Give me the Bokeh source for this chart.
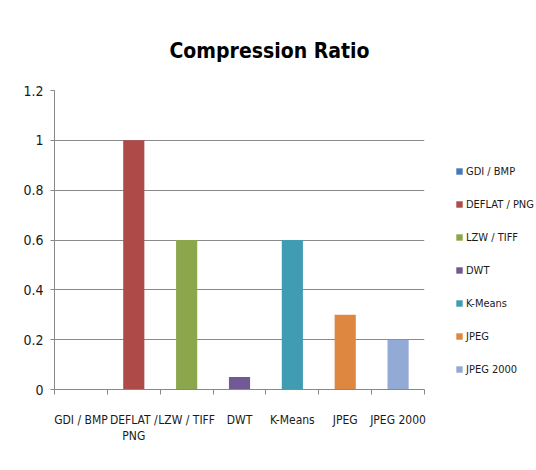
from bokeh.plotting import figure
from bokeh.models import ColumnDataSource, FixedTicker, Legend, LegendItem, Range1d
from bokeh.embed import file_html
from bokeh.resources import INLINE

categories = ["GDI / BMP", "DEFLAT / PNG", "LZW / TIFF", "DWT", "K-Means", "JPEG", "JPEG 2000"]
axis_labels = ["GDI / BMP", "DEFLAT /\nPNG", "LZW / TIFF", "DWT", "K-Means", "JPEG", "JPEG 2000"]
values = [0.0, 1.0, 0.6, 0.05, 0.6, 0.3, 0.2]
colors = ["#4677B8", "#AE4A48", "#8BA64B", "#735893", "#3F9CB2", "#DE8740", "#94AAD6"]
y_ticks = [0, 0.2, 0.4, 0.6, 0.8, 1.0, 1.2]
y_tick_labels = ["0", "0.2", "0.4", "0.6", "0.8", "1", "1.2"]

FONT = "'DejaVu Sans Condensed', Roboto"
TXT = "#1a1a1a"

xpos = [i + 0.5 for i in range(len(categories))]

p = figure(frame_width=370, frame_height=299, output_backend="svg", toolbar_location=None,
           x_range=Range1d(0, len(categories)), y_range=Range1d(0, 1.2),
           min_border_left=54, min_border_right=0, min_border_top=90, min_border_bottom=70)

p.title.text = "Compression Ratio"
p.title.text_font = FONT
p.title.text_font_size = "21px"
p.title.text_font_style = "bold"
p.title.text_color = "#000000"
p.title.align = "left"
p.title.offset = 115
p.title.standoff = 56

items = []
for i, cat in enumerate(categories):
    src = ColumnDataSource(dict(x=[xpos[i]], top=[values[i]]))
    r = p.vbar(x="x", top="top", width=0.4, source=src, fill_color=colors[i], line_color=None)
    items.append(LegendItem(label=cat, renderers=[r]))

# x axis
p.xaxis.ticker = FixedTicker(ticks=xpos, minor_ticks=list(range(len(categories) + 1)))
p.xaxis.major_label_overrides = {x: lab for x, lab in zip(xpos, axis_labels)}
p.xaxis.major_tick_line_color = None
p.xaxis.major_tick_out = 5
p.xaxis.minor_tick_out = 5
p.xaxis.minor_tick_in = 0
p.xaxis.minor_tick_line_color = "#888888"
p.xaxis.axis_line_color = "#888888"
p.xaxis.major_label_standoff = 18
p.xaxis.major_label_text_font = FONT
p.xaxis.major_label_text_font_size = "12px"
p.xaxis.major_label_text_color = TXT

# y axis
p.yaxis.ticker = FixedTicker(ticks=y_ticks)
p.yaxis.major_label_overrides = {t: s for t, s in zip(y_ticks, y_tick_labels)}
p.yaxis.minor_tick_line_color = None
p.yaxis.major_tick_out = 4
p.yaxis.major_tick_in = 0
p.yaxis.major_tick_line_color = "#888888"
p.yaxis.axis_line_color = "#888888"
p.yaxis.major_label_standoff = 7
p.yaxis.major_label_text_font = FONT
p.yaxis.major_label_text_font_size = "14px"
p.yaxis.major_label_text_color = TXT

p.xgrid.grid_line_color = None
p.ygrid.grid_line_color = "#8a8a8a"
p.ygrid.grid_line_width = 1
p.outline_line_color = None

legend = Legend(items=items, location=(31, 10), border_line_color=None,
                background_fill_alpha=0, padding=0, margin=0,
                glyph_width=8, glyph_height=8, label_height=20, spacing=13,
                label_standoff=3, label_text_font=FONT, label_text_font_size="11px",
                label_text_color=TXT)
p.add_layout(legend, "right")

open("out.html", "w").write(file_html(p, INLINE))
